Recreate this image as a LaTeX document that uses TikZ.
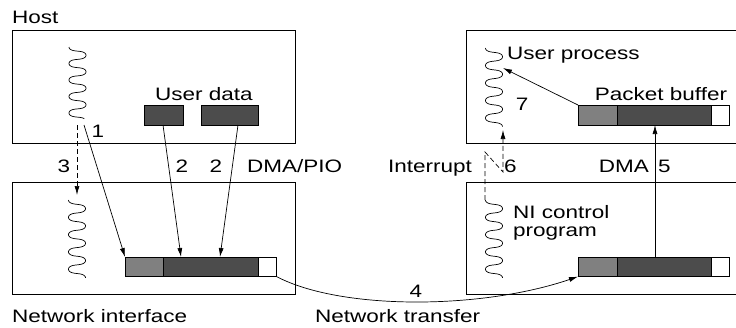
\documentclass[tikz,border=0pt]{standalone}
\usepackage{fontspec}
\setmainfont[FakeStretch=1.25]{Liberation Sans}
\usetikzlibrary{arrows.meta}

\begin{document}
\begin{tikzpicture}[x=1pt,y=-1pt,
  box/.style={draw, line width=0.8pt, inner sep=0pt, anchor=north west},
  lbl/.style={font=\fontsize{18}{20}\selectfont, inner sep=0pt},
  arr/.style={-{Latex[length=9pt,width=5pt]}, line width=0.7pt},
  dsh/.style={arr, dash pattern=on 5pt off 3pt},
  seg/.style={draw, line width=0.6pt, inner sep=0pt, anchor=north west, minimum height=19pt},
  lightseg/.style={seg, fill=black!50},
  darkseg/.style={seg, fill=black!70},
  blankseg/.style={seg, fill=white},
  wave/.style={line width=0.7pt},
]
\clip (0,0) rectangle (736,327);

% ---- the four machines ----
\node[box, minimum width=283pt, minimum height=113pt] (host)  at (12,30)  {};
\node[box, minimum width=283pt, minimum height=112pt] (ni)    at (12,182) {};
\node[box, minimum width=290pt, minimum height=113pt] (rhost) at (466,30) {};
\node[box, minimum width=290pt, minimum height=112pt] (rni)   at (466,182) {};

\node[lbl, anchor=base west] (hostlbl) at (12,23)  {Host};
\node[lbl, anchor=base west] (nilbl)   at (12,322) {Network interface};
\node[lbl, anchor=base west] (netlbl)  at (315,322) {Network transfer};

% ---- sending host: user process thread and user data ----
% threads are drawn as wavy lines with rounded turns
\draw[wave] plot[variable=\t, domain=0:4.4, samples=300, smooth]
  ({77.5-8.5*cos(360*\t)}, {47+16.5*\t+0.9*sin(720*\t)});
\coordinate (hw3) at (77,125);
\coordinate (hw1) at (84,125);

\node[darkseg, minimum width=39pt, minimum height=20pt] (ud1) at (144,105) {};
\node[darkseg, minimum width=57pt, minimum height=20pt] (ud2) at (201,105) {};
\node[lbl, anchor=base] (udlbl) at (204,100) {User data};
\node[lbl, anchor=base] (n1) at (98,137) {1};

% ---- sending network interface ----
\draw[wave] plot[variable=\t, domain=0:4.5, samples=300, smooth]
  ({77-8.5*cos(360*\t)}, {200+17.3*\t+0.9*sin(720*\t)});
\coordinate (nwtop) at (77,195);

\node[lightseg, minimum width=38pt] (nbA) at (125,257) {};
\node[darkseg,  minimum width=95pt] (nbB) at (163,257) {};
\node[blankseg, minimum width=18pt] (nbC) at (258,257) {};

% ---- receiving host ----
\draw[wave] plot[variable=\t, domain=0:4.5, samples=300, smooth]
  ({494-8.5*cos(360*\t)}, {48+17.5*\t+0.9*sin(720*\t)});
\coordinate (rtwbot) at (503,130);
\coordinate (rtwmid) at (503,68);
\node[lbl, anchor=base west] (uplbl) at (507,59) {User process};

\node[lightseg, minimum width=39pt, minimum height=20pt] (tbA) at (578,105) {};
\node[darkseg,  minimum width=94pt, minimum height=20pt] (tbB) at (617,105) {};
\node[blankseg, minimum width=18pt, minimum height=20pt] (tbC) at (711,105) {};
\node[lbl, anchor=base] (pblbl) at (661,100) {Packet buffer};
\node[lbl, anchor=base] (n7) at (522,110) {7};

% ---- receiving network interface ----
\draw[wave] plot[variable=\t, domain=0:4.5, samples=300, smooth]
  ({494-8.5*cos(360*\t)}, {200+17.3*\t+0.9*sin(720*\t)});
\coordinate (rnwtop) at (485,200);
\node[lbl, anchor=base west] (nic1) at (513,218) {NI control};
\node[lbl, anchor=base west] (nic2) at (513,236) {program};

\node[lightseg, minimum width=39pt] (rbA) at (578,257) {};
\node[darkseg,  minimum width=94pt] (rbB) at (617,257) {};
\node[blankseg, minimum width=18pt] (rbC) at (711,257) {};

% ---- steps ----
\coordinate (s2a) at (163,125);
\coordinate (t2a) at (181,257);
\coordinate (s2b) at (238,125);
\coordinate (t2b) at (220,257);
\coordinate (s5) at (655,257);
\coordinate (t5) at (655,125);
\coordinate (k1) at (485,152);
\coordinate (k2) at (503,172);

\draw[arr] (hw1) -- (nbA.north west);
\draw[arr] (s2a) -- (t2a);
\draw[arr] (s2b) -- (t2b);
\draw[dsh] (hw3) -- (nwtop);
\draw[arr] (nbC.south east) .. controls (340,310) and (480,310) .. (rbA.south west);
\draw[arr] (s5) -- (t5);
\draw[dsh] (rnwtop) -- (k1) -- (k2) -- (rtwbot);
\draw[arr] (tbA.north west) -- (rtwmid);

\node[lbl, anchor=base] (n3) at (64,172) {3};
\node[lbl, anchor=base] (n2a) at (182,172) {2};
\node[lbl, anchor=base] (n2b) at (216,172) {2};
\node[lbl, anchor=base west] (dmapio) at (247,172) {DMA/PIO};
\node[lbl, anchor=base] (n4) at (416,297) {4};
\node[lbl, anchor=base east] (intr) at (472,172) {Interrupt};
\node[lbl, anchor=base west] (n6) at (504,172) {6};
\node[lbl, anchor=base east] (dma) at (649,172) {DMA};
\node[lbl, anchor=base west] (n5) at (658,172) {5};
\end{tikzpicture}
\end{document}
